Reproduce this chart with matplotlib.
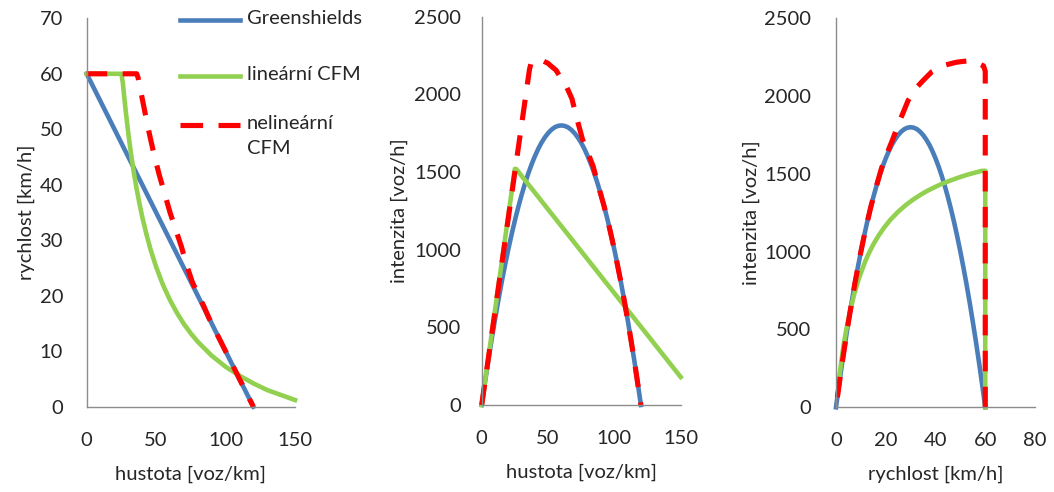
import matplotlib
matplotlib.use("Agg")
import matplotlib.pyplot as plt
from matplotlib.lines import Line2D

# ---- data ----
# Greenshields
gs_density = [0, 2.5, 5, 7.5, 10, 12.5, 15, 17.5, 20, 22.5, 25, 27.5, 30, 32.5, 35, 37.5, 40, 42.5, 45, 47.5,
              50, 52.5, 55, 57.5, 60, 62.5, 65, 67.5, 70, 72.5, 75, 77.5, 80, 82.5, 85, 87.5, 90, 92.5, 95, 97.5,
              100, 102.5, 105, 107.5, 110, 112.5, 115, 117.5, 120]
gs_speed = [60, 58.75, 57.5, 56.25, 55, 53.75, 52.5, 51.25, 50, 48.75, 47.5, 46.25, 45, 43.75, 42.5, 41.25, 40,
            38.75, 37.5, 36.25, 35, 33.75, 32.5, 31.25, 30, 28.75, 27.5, 26.25, 25, 23.75, 22.5, 21.25, 20, 18.75,
            17.5, 16.25, 15, 13.75, 12.5, 11.25, 10, 8.75, 7.5, 6.25, 5, 3.75, 2.5, 1.25, 0]
gs_flow = [0, 147, 288, 422, 550, 672, 788, 897, 1000, 1097, 1188, 1272, 1350, 1422, 1488, 1547, 1600, 1647,
           1688, 1722, 1750, 1772, 1788, 1797, 1800, 1797, 1788, 1772, 1750, 1722, 1688, 1647, 1600, 1547, 1488,
           1422, 1350, 1272, 1188, 1097, 1000, 897, 788, 672, 550, 422, 288, 147, 0]

# lineární CFM
lin_density = [0, 25, 26, 27, 28, 29, 30, 32, 34, 36, 38, 40, 43, 46, 50, 55, 60, 65, 70, 75, 80, 90, 100,
               110, 120, 130, 140, 150]
lin_speed = [60, 60, 58.4, 55.9, 53.5, 51.3, 49.2, 45.4, 42.1, 39.2, 36.6, 34.2, 31.1, 28.3, 25.2, 21.9, 19.2,
             16.9, 14.9, 13.2, 11.7, 9.2, 7.2, 5.6, 4.2, 3.0, 2.1, 1.2]
lin_flow = [0, 1520, 1519, 1508, 1498, 1487, 1476, 1454, 1433, 1411, 1390, 1368, 1336, 1303, 1260, 1206, 1152,
            1098, 1044, 990, 936, 828, 720, 612, 504, 396, 288, 180]

# nelineární CFM
nl_density = [0, 36, 37, 38, 40, 42, 44, 46, 48, 50, 52, 56, 60, 64, 68, 72, 76, 80, 84, 88, 92, 96, 100,
              105, 110, 115, 120]
nl_speed = [60, 60, 59.3, 58, 55.5, 53, 50.5, 48.2, 46, 44, 42, 38.5, 35, 32, 29, 25.5, 22.5, 20.3, 18.3, 16,
            14, 12, 10, 7.5, 5, 2.5, 0]
nl_flow = [0, 2160, 2194, 2204, 2220, 2226, 2222, 2217, 2208, 2200, 2184, 2156, 2100, 2048, 1972, 1836, 1710,
           1624, 1537, 1408, 1288, 1152, 1000, 788, 550, 288, 0]

labels = ["Greenshields", "lineární CFM", "nelineární\nCFM"]

xlabel_k = "hustota [voz/km]"
xlabel_v = "rychlost [km/h]"
ylabel_v = "rychlost [km/h]"
ylabel_q = "intenzita [voz/h]"

BLUE = "#4a7ebb"
GREEN = "#92d050"
RED = "#ff0000"
TXT = "#262626"
LW = 3.3
LW_RED = 3.7
DASH = (4.0, 3.0)
FS = 14.5

plt.rcParams['font.family'] = ['Lato', 'DejaVu Sans']

W, H = 1054, 492
fig = plt.figure(figsize=(W / 100, H / 100), dpi=100)

def axrect(x0, x1, ytop, ybot):
    return [x0 / W, 1 - ybot / H, (x1 - x0) / W, (ybot - ytop) / H]

ax1 = fig.add_axes(axrect(86.7, 295, 18.3, 406.7))
ax2 = fig.add_axes(axrect(481.7, 680.7, 16.7, 405))
ax3 = fig.add_axes(axrect(836, 1035, 18.3, 407.3))

def style(ax, ypad):
    for s in ["top", "right"]:
        ax.spines[s].set_visible(False)
    for s in ["left", "bottom"]:
        ax.spines[s].set_color("#8c8c8c")
        ax.spines[s].set_linewidth(1.0)
    ax.tick_params(length=0, labelsize=FS, colors=TXT)
    ax.tick_params(axis="x", pad=18)
    ax.tick_params(axis="y", pad=ypad)

# panel 1
ax1.plot(gs_density, gs_speed, color=BLUE, lw=LW)
ax1.plot(lin_density, lin_speed, color=GREEN, lw=LW)
ax1.plot(nl_density, nl_speed, color=RED, lw=LW_RED, dashes=DASH)
ax1.set_xlim(0, 150)
ax1.set_ylim(0, 70)
ax1.set_xticks([0, 50, 100, 150])
ax1.set_yticks(range(0, 71, 10))
ax1.set_xlabel(xlabel_k, fontsize=FS, labelpad=12, color=TXT)
ax1.set_ylabel(ylabel_v, fontsize=FS, labelpad=3, color=TXT)
style(ax1, 17)

# panel 2
ax2.plot(gs_density, gs_flow, color=BLUE, lw=LW)
ax2.plot(lin_density, lin_flow, color=GREEN, lw=LW)
ax2.plot(nl_density, nl_flow, color=RED, lw=LW_RED, dashes=DASH)
ax2.set_xlim(0, 150)
ax2.set_ylim(0, 2500)
ax2.set_xticks([0, 50, 100, 150])
ax2.set_yticks(range(0, 2501, 500))
ax2.set_xlabel(xlabel_k, fontsize=FS, labelpad=12, color=TXT)
ax2.set_ylabel(ylabel_q, fontsize=FS, labelpad=4, color=TXT)
style(ax2, 15)

# panel 3
ax3.plot(gs_speed, gs_flow, color=BLUE, lw=LW)
ax3.plot(lin_speed, lin_flow, color=GREEN, lw=LW)
ax3.plot(nl_speed, nl_flow, color=RED, lw=LW_RED, dashes=DASH)
ax3.set_xlim(0, 80)
ax3.set_ylim(0, 2500)
ax3.set_xticks(range(0, 81, 20))
ax3.set_yticks(range(0, 2501, 500))
ax3.set_xlabel(xlabel_v, fontsize=FS, labelpad=12, color=TXT)
ax3.set_ylabel(ylabel_q, fontsize=FS, labelpad=3, color=TXT)
style(ax3, 18)
for a in (ax1, ax2, ax3):
    for l in a.lines:
        l.set_clip_on(False)

# legend (drawn manually so the multi-line entry aligns like the original)
leg_styles = [dict(color=BLUE, lw=LW), dict(color=GREEN, lw=LW), dict(color=RED, lw=LW_RED, dashes=(4.4, 3.0))]
leg_y = [20, 76, 125]
for lab, st, y in zip(labels, leg_styles, leg_y):
    yf = 1 - y / H
    fig.add_artist(Line2D([180 / W, 240 / W], [yf, yf], transform=fig.transFigure, **st))
    fig.text(247 / W, yf + 10 / H, lab, fontsize=FS, color=TXT, va="top", ha="left", linespacing=1.6)

fig.savefig("out.png", dpi=100)
